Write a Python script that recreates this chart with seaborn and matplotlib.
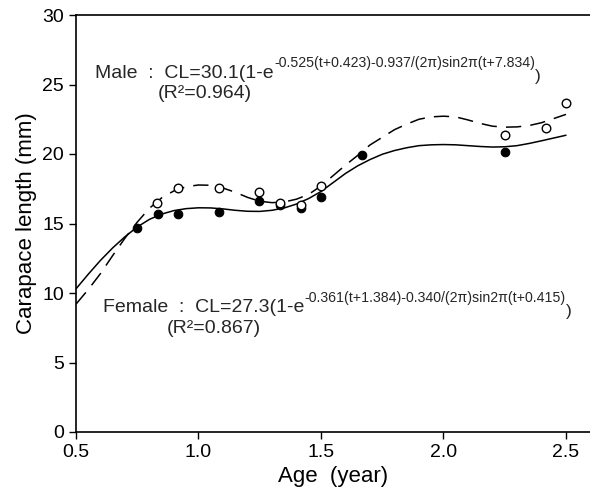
import matplotlib
matplotlib.use("Agg")
import matplotlib.pyplot as plt
import pandas as pd
import seaborn as sns

# Observed carapace length (mm) at age (year)
MALE_AGE = [0.832, 0.918, 1.084, 1.248, 1.333, 1.417, 1.499, 2.251, 2.417, 2.498]
MALE_CL = [16.5, 17.53, 17.55, 17.24, 16.45, 16.35, 17.7, 21.39, 21.85, 23.65]
FEMALE_AGE = [0.750, 0.833, 0.918, 1.084, 1.248, 1.333, 1.417, 1.499, 1.667, 2.251]
FEMALE_CL = [14.65, 15.68, 15.68, 15.85, 16.62, 16.3, 16.15, 16.93, 19.93, 20.17]

# Fitted growth curves
CURVE_AGE = [0.50, 0.55, 0.60, 0.65, 0.70, 0.75, 0.80, 0.85, 0.90, 0.95,
             1.00, 1.05, 1.10, 1.15, 1.20, 1.25, 1.30, 1.35, 1.40, 1.45,
             1.50, 1.55, 1.60, 1.65, 1.70, 1.75, 1.80, 1.85, 1.90, 1.95,
             2.00, 2.05, 2.10, 2.15, 2.20, 2.25, 2.30, 2.35, 2.40, 2.45,
             2.50]
MALE_FIT = [9.2, 10.25, 11.4, 12.7, 13.95, 15.1, 16.1, 16.85, 17.35, 17.65,
            17.77, 17.75, 17.55, 17.25, 16.88, 16.6, 16.5, 16.55, 16.75, 17.1,
            17.7, 18.45, 19.2, 19.9, 20.65, 21.2, 21.75, 22.15, 22.5, 22.67,
            22.72, 22.67, 22.45, 22.2, 22.0, 21.93, 21.95, 22.05, 22.25, 22.55,
            22.85]
FEMALE_FIT = [10.3, 11.35, 12.35, 13.25, 14.05, 14.75, 15.3, 15.68, 15.93, 16.07,
              16.13, 16.12, 16.05, 15.95, 15.88, 15.87, 15.95, 16.12, 16.4, 16.8,
              17.3, 17.95, 18.6, 19.15, 19.6, 19.98, 20.25, 20.45, 20.6, 20.66,
              20.68, 20.66, 20.6, 20.54, 20.5, 20.52, 20.6, 20.76, 20.95, 21.15,
              21.35]

MALE_HEAD = "Male  :  CL=30.1(1-e"
MALE_POWER = "-0.525(t+0.423)-0.937/(2\u03c0)sin2\u03c0(t+7.834)"
MALE_R2 = "(R\u00b2=0.964)"
FEMALE_HEAD = "Female  :  CL=27.3(1-e"
FEMALE_POWER = "-0.361(t+1.384)-0.340/(2\u03c0)sin2\u03c0(t+0.415)"
FEMALE_R2 = "(R\u00b2=0.867)"


def growth_label(ax, x, y, head, power, r2, r2_x, r2_y):
    """Write the growth equation with a raised exponent and R2 below."""
    main = ax.text(x, y, head, fontsize=14, va="baseline")
    sup = ax.annotate(power, xy=(1, y), xycoords=(main, "data"),
                      xytext=(0.3, 7.5), textcoords="offset points",
                      fontsize=10.2, va="baseline")
    ax.annotate(")", xy=(1, y), xycoords=(sup, "data"), xytext=(0.3, -2.5),
                textcoords="offset points", fontsize=12.5, va="baseline")
    ax.text(r2_x, r2_y, r2, fontsize=14, va="baseline")


def main():
    sns.set_style("ticks")
    plt.rcParams["font.family"] = ["Liberation Sans", "DejaVu Sans"]

    curves = pd.DataFrame({"age": CURVE_AGE, "male": MALE_FIT,
                           "female": FEMALE_FIT})
    male = pd.DataFrame({"age": MALE_AGE, "cl": MALE_CL})
    female = pd.DataFrame({"age": FEMALE_AGE, "cl": FEMALE_CL})

    fig = plt.figure(figsize=(5.9, 5.01), dpi=100)
    ax = fig.add_axes([76 / 590, 69 / 501, 514 / 590, 417 / 501])

    # Fitted curves
    sns.lineplot(data=curves, x="age", y="female", ax=ax, color="black",
                 linewidth=1.1)
    sns.lineplot(data=curves, x="age", y="male", ax=ax, color="black",
                 linewidth=1.1)
    ax.lines[-1].set_dashes((10, 6))
    # Observations
    sns.scatterplot(data=female, x="age", y="cl", ax=ax, color="black",
                    s=38, edgecolor="black", linewidth=0.8, zorder=3)
    sns.scatterplot(data=male, x="age", y="cl", ax=ax, color="white",
                    s=38, edgecolor="black", linewidth=1.0, zorder=4)

    # Equations
    growth_label(ax, 0.578, 25.5, MALE_HEAD, MALE_POWER, MALE_R2, 0.835, 24.0)
    growth_label(ax, 0.610, 8.6, FEMALE_HEAD, FEMALE_POWER, FEMALE_R2,
                 0.87, 7.1)

    # Aesthetics
    ax.set(xlim=(0.5, 2.598), ylim=(0, 30))
    ax.set_xticks([0.5, 1.0, 1.5, 2.0, 2.5])
    ax.set_xticklabels(["0.5", "1.0", "1.5", "2.0", "2.5"])
    ax.set_yticks([0, 5, 10, 15, 20, 25, 30])
    ax.tick_params(labelsize=14, length=5, width=1, color="black",
                   labelcolor="black")
    ax.set_xlabel("Age  (year)", fontsize=16, color="black")
    ax.set_ylabel("Carapace length (mm)", fontsize=16, color="black")
    ax.spines["right"].set_visible(False)
    for side in ("left", "bottom", "top"):
        ax.spines[side].set_color("black")
        ax.spines[side].set_linewidth(1.2)

    fig.savefig("out.png", dpi=100, facecolor="white")


if __name__ == "__main__":
    main()
